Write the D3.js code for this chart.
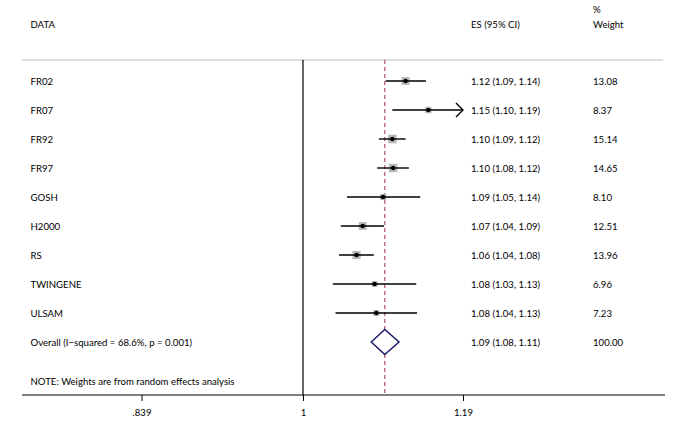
<!DOCTYPE html>
<html>
<head>
<meta charset="utf-8">
<style>
body { margin: 0; background: #fff; }
svg { font-family: Lato, sans-serif; font-size: 9.6px; }
.lbl { fill: #000; }
.ci { stroke: #000; stroke-width: 1.4; fill: none; }
.box { fill: #b8b8b8; }
.dot { fill: #000; }
.ref { stroke: #000; stroke-width: 1.2; }
.avg { stroke: #a8455a; stroke-width: 1.1; stroke-dasharray: 4,3; }
.axis path { display: none; }
.axis line { stroke: #000; }
.axis text { font-family: Lato, sans-serif; font-size: 9.6px; fill: #000; }
</style>
</head>
<body>
<svg width="681" height="422"></svg>
<script src="https://cdn.jsdelivr.net/npm/d3@7"></script>
<script>
// study data (estimates read off the marks, labels show them to 2 dp)
var studies = ["FR02", "FR07", "FR92", "FR97", "GOSH", "H2000", "RS", "TWINGENE", "ULSAM"];
var es      = [1.118, 1.146, 1.102, 1.103, 1.091, 1.067, 1.060, 1.081, 1.083];
var lo      = [1.094, 1.102, 1.086, 1.084, 1.049, 1.042, 1.040, 1.033, 1.036];
var hi      = [1.143, 1.19, 1.118, 1.122, 1.136, 1.092, 1.080, 1.131, 1.132];
var weights = [13.08, 8.37, 15.14, 14.65, 8.10, 12.51, 13.96, 6.96, 7.23];

var overall = {es: 1.093, lo: 1.077, hi: 1.110, w: 100.00};
var overallLabel = "Overall  (I\u2212squared = 68.6%, p = 0.001)";
var note = "NOTE: Weights are from random effects analysis";

var tickValues = [0.839, 1, 1.19];
var tickLabels = [".839", "1", "1.19"];

var svg = d3.select("svg");
var f2 = d3.format(".2f");

// log scale, anchored on the outer tick labels
var x = d3.scaleLog().domain([0.839, 1.19]).range([141.5, 463]);
var y = d3.scaleLinear().domain([0, 9]).range([81, 342]);
var plotLeft = 22, plotRight = 665, plotTop = 60, axisY = 395;

var colLbl = 30.5, colES = 471, colW = 593;

// headers
svg.append("text").attr("class", "lbl").attr("x", colLbl).attr("y", 27.5).text("DATA");
svg.append("text").attr("class", "lbl").attr("x", colES).attr("y", 27.5).text("ES (95% CI)");
svg.append("text").attr("class", "lbl").attr("x", colW).attr("y", 13).text("%");
svg.append("text").attr("class", "lbl").attr("x", colW).attr("y", 27.5).text("Weight");

svg.append("line")
  .attr("x1", plotLeft).attr("x2", 663)
  .attr("y1", plotTop).attr("y2", plotTop)
  .attr("stroke", "#d4d4d4").attr("stroke-width", 1.5);

// reference line at 1 and overall line
svg.append("line").attr("class", "ref")
  .attr("x1", x(1)).attr("x2", x(1)).attr("y1", plotTop).attr("y2", axisY);
svg.append("line").attr("class", "avg")
  .attr("x1", x(overall.es)).attr("x2", x(overall.es)).attr("y1", plotTop).attr("y2", axisY);

var rows = studies.map(function(s, i) {
  return {name: s, es: es[i], lo: lo[i], hi: hi[i], w: weights[i], i: i};
});

var maxX = d3.max(tickValues);

var g = svg.selectAll(".row").data(rows).enter().append("g").attr("class", "row");

g.append("rect").attr("class", "box")
  .attr("x", function(d) { return x(d.es) - 1.1 * Math.sqrt(d.w); })
  .attr("y", function(d) { return y(d.i) - 1.1 * Math.sqrt(d.w); })
  .attr("width", function(d) { return 2.2 * Math.sqrt(d.w); })
  .attr("height", function(d) { return 2.2 * Math.sqrt(d.w); });

g.append("line").attr("class", "ci")
  .attr("x1", function(d) { return x(d.lo); })
  .attr("x2", function(d) { return x(Math.min(d.hi, maxX)); })
  .attr("y1", function(d) { return y(d.i); })
  .attr("y2", function(d) { return y(d.i); });

// arrow where the interval reaches the axis end
g.filter(function(d) { return d.hi >= maxX; })
  .append("path").attr("class", "ci")
  .attr("d", function(d) {
    var tx = x(maxX), ty = y(d.i);
    return "M" + (tx - 7) + "," + (ty - 7) + "L" + tx + "," + ty + "L" + (tx - 7) + "," + (ty + 7);
  });

g.append("circle").attr("class", "dot")
  .attr("cx", function(d) { return x(d.es); })
  .attr("cy", function(d) { return y(d.i); })
  .attr("r", 2.2);

g.append("text").attr("class", "lbl")
  .attr("x", colLbl).attr("y", function(d) { return y(d.i) + 3.5; })
  .text(function(d) { return d.name; });
g.append("text").attr("class", "lbl")
  .attr("x", colES).attr("y", function(d) { return y(d.i) + 3.5; })
  .text(function(d) { return f2(d.es) + " (" + f2(d.lo) + ", " + f2(d.hi) + ")"; });
g.append("text").attr("class", "lbl")
  .attr("x", colW).attr("y", function(d) { return y(d.i) + 3.5; })
  .text(function(d) { return f2(d.w); });

// overall diamond
var oy = y(9);
svg.append("path")
  .attr("d", "M" + x(overall.lo) + "," + oy + "L" + x(overall.es) + "," + (oy - 12.5) +
             "L" + x(overall.hi) + "," + oy + "L" + x(overall.es) + "," + (oy + 12.5) + "Z")
  .attr("fill", "#fff").attr("stroke", "#1c1c6b").attr("stroke-width", 1.5);

svg.append("text").attr("class", "lbl").attr("x", colLbl).attr("y", oy + 3.5).text(overallLabel);
svg.append("text").attr("class", "lbl").attr("x", colES).attr("y", oy + 3.5)
  .text(f2(overall.es) + " (" + f2(overall.lo) + ", " + f2(overall.hi) + ")");
svg.append("text").attr("class", "lbl").attr("x", colW).attr("y", oy + 3.5).text(f2(overall.w));

svg.append("text").attr("class", "lbl").attr("x", colLbl).attr("y", 385).text(note);

// x axis
svg.append("line")
  .attr("x1", plotLeft).attr("x2", plotRight)
  .attr("y1", axisY).attr("y2", axisY)
  .attr("stroke", "#000").attr("stroke-width", 1.2);

svg.append("g").attr("class", "axis")
  .attr("transform", "translate(0," + axisY + ")")
  .call(d3.axisBottom(x).tickValues(tickValues).tickSize(6).tickPadding(8)
    .tickFormat(function(d, i) { return tickLabels[i]; }));
</script>
</body>
</html>
